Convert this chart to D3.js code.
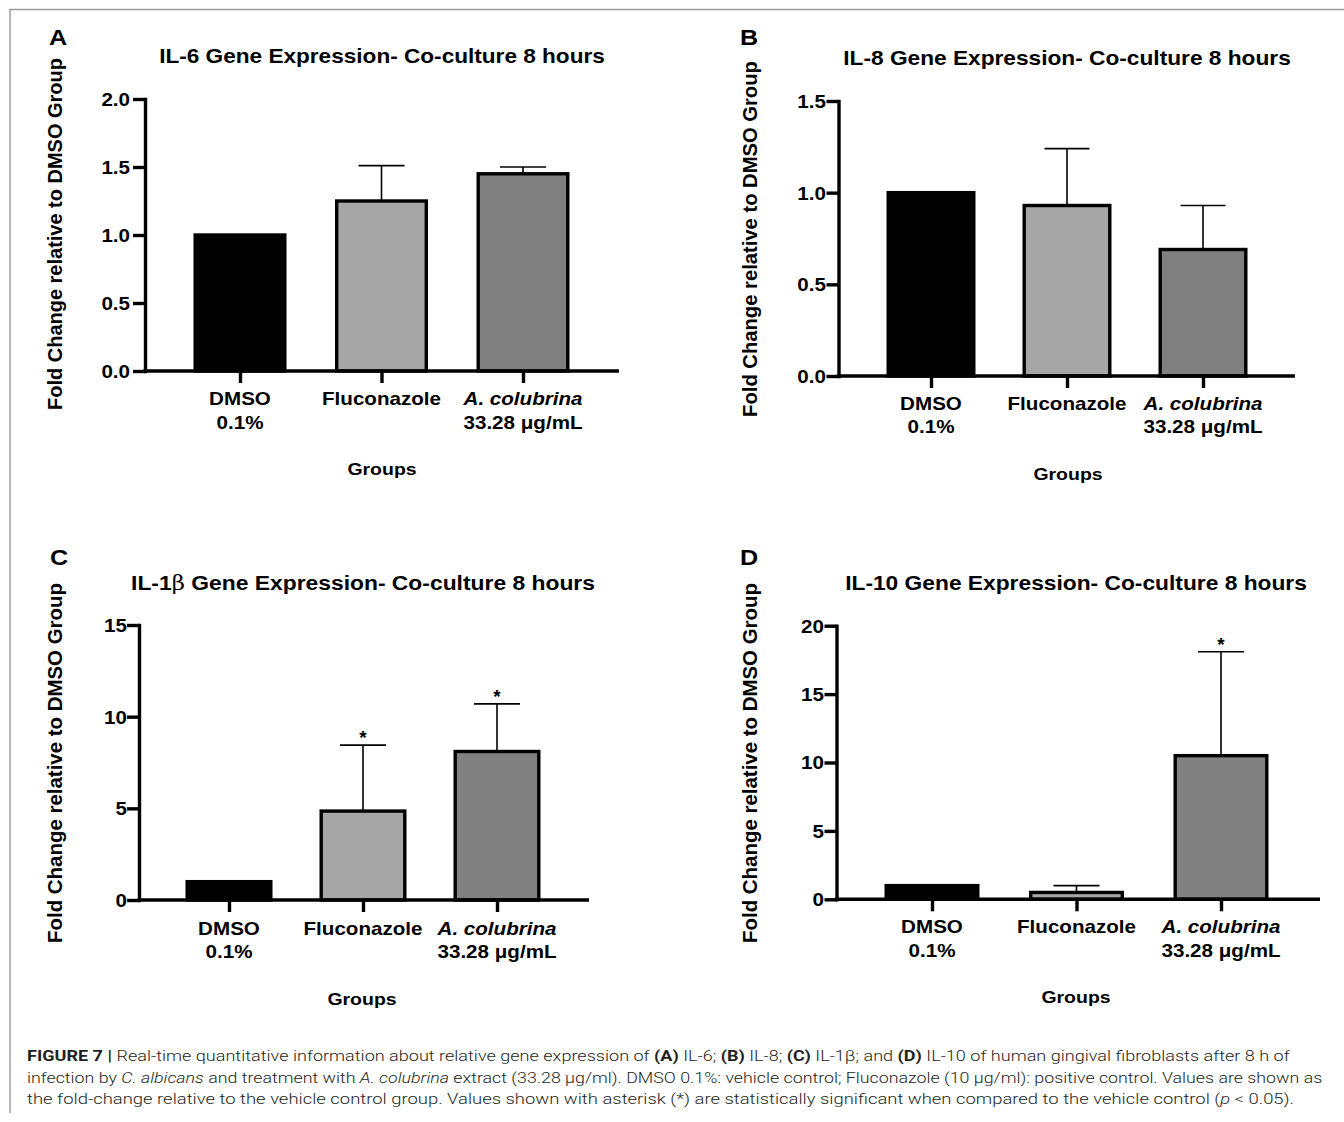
<!DOCTYPE html>
<html><head><meta charset="utf-8">
<script src="https://cdn.jsdelivr.net/npm/d3@7"></script>
<style>body{margin:0;background:#fff}svg{display:block}text{white-space:pre}</style>
</head><body>
<svg id="fig" width="1344" height="1122"></svg>
<script>
// ---------------- DATA ----------------
const groups = ["DMSO 0.1%", "Fluconazole", "A. colubrina 33.28 μg/mL"];
const groupLine1 = ["DMSO", "Fluconazole", "A. colubrina"];
const groupLine2 = ["0.1%", "", "33.28 μg/mL"];
const barColors = ["#000000", "#a6a6a6", "#808080"];

const il6Mean = [1.0, 1.25, 1.45];
const il6Err  = [0, 0.26, 0.05];
const il6Sig  = [false, false, false];
const il6Ticks = [0, 0.5, 1.0, 1.5, 2.0];

const il8Mean = [1.0, 0.93, 0.69];
const il8Err  = [0, 0.31, 0.24];
const il8Sig  = [false, false, false];
const il8Ticks = [0, 0.5, 1.0, 1.5];

const il1bMean = [1.0, 4.85, 8.1];
const il1bErr  = [0, 3.6, 2.6];
const il1bSig  = [false, true, true];
const il1bTicks = [0, 5, 10, 15];

const il10Mean = [1.0, 0.5, 10.5];
const il10Err  = [0, 0.5, 7.6];
const il10Sig  = [false, false, true];
const il10Ticks = [0, 5, 10, 15, 20];

const titleA = [["IL-6 Gene Expression- Co-culture 8 hours", false]];
const titleB = [["IL-8 Gene Expression- Co-culture 8 hours", false]];
const titleC = [["IL-1", false], ["β", true], [" Gene Expression- Co-culture 8 hours", false]];
const titleD = [["IL-10 Gene Expression- Co-culture 8 hours", false]];
const yLabel = "Fold Change relative to DMSO Group";
const xLabel = "Groups";

const captionLines = [
  [["FIGURE 7 |", "b"], [" Real-time quantitative information about relative gene expression of ", ""], ["(A)", "b"], [" IL-6; ", ""], ["(B)", "b"], [" IL-8; ", ""], ["(C)", "b"], [" IL-1β; and ", ""], ["(D)", "b"], [" IL-10 of human gingival fibroblasts after 8 h of", ""]],
  [["infection by ", ""], ["C. albicans", "i"], [" and treatment with ", ""], ["A. colubrina", "i"], [" extract (33.28 μg/ml). DMSO 0.1%: vehicle control; Fluconazole (10 μg/ml): positive control. Values are shown as", ""]],
  [["the fold-change relative to the vehicle control group. Values shown with asterisk (*) are statistically significant when compared to the vehicle control (", ""], ["p", "i"], [" < 0.05).", ""]]
];

// ---------------- LAYOUT ----------------
const FONT = "'Liberation Sans', Arial, Helvetica, sans-serif";
const SX = 1.145;   // horizontal stretch of the reference typography
const SW = 3.4;     // heavy stroke

const panels = [
  {letter: "A", title: titleA, mean: il6Mean, err: il6Err, sig: il6Sig, ticks: il6Ticks, fmt: d3.format(".1f"), max: 2,
   g: {ax: 145, y0: 371, y1: 99, xEnd: 619, c0: 240, c2: 523, bw: 93, capW: 46, tickRight: 130,
       tx: 382, ty: 63, tw: 446, lx: 49, ly: 45, ylx: 62, ylcy: 234, yll: 352, xl1: 405, xl2: 429, gx: 382, gy: 475}},
  {letter: "B", title: titleB, mean: il8Mean, err: il8Err, sig: il8Sig, ticks: il8Ticks, fmt: d3.format(".1f"), max: 1.5,
   g: {ax: 838.5, y0: 376, y1: 101, xEnd: 1295, c0: 931, c2: 1203, bw: 89, capW: 45, tickRight: 826,
       tx: 1067, ty: 65, tw: 448, lx: 740, ly: 45, ylx: 757, ylcy: 239, yll: 356, xl1: 410, xl2: 433, gx: 1068, gy: 480}},
  {letter: "C", title: titleC, mean: il1bMean, err: il1bErr, sig: il1bSig, ticks: il1bTicks, fmt: d3.format("d"), max: 15,
   g: {ax: 139, y0: 900, y1: 625, xEnd: 589, c0: 229, c2: 497, bw: 87, capW: 46, tickRight: 127,
       tx: 363, ty: 590, tw: 464, lx: 50, ly: 565, ylx: 62, ylcy: 763, yll: 360, xl1: 935, xl2: 958, gx: 362, gy: 1005}},
  {letter: "D", title: titleD, mean: il10Mean, err: il10Err, sig: il10Sig, ticks: il10Ticks, fmt: d3.format("d"), max: 20,
   g: {ax: 836.5, y0: 899.3, y1: 625.7, xEnd: 1320, c0: 932, c2: 1221, bw: 95, capW: 46, tickRight: 824,
       tx: 1076, ty: 590, tw: 462, lx: 740, ly: 565, ylx: 757, ylcy: 763, yll: 360, xl1: 933, xl2: 957, gx: 1076, gy: 1003}}
];

const svg = d3.select("#fig");

// frame
svg.append("path").attr("d", "M10,1113V9.5H1344").attr("fill", "none")
  .attr("stroke", "#9a9a9a").attr("stroke-width", 1.5);

function fitH(sel, target) {
  const w = sel.node().getBBox().width;
  return w > 0 ? target / w : 1;
}

function drawPanel(p) {
  const g = p.g;
  const G = svg.append("g").attr("font-family", FONT);
  const x = d3.scalePoint().domain(groups).range([g.c0, g.c2]);
  const y = d3.scaleLinear().domain([0, p.max]).range([g.y0, g.y1]);

  // error bars (upper only)
  const eb = G.append("g").attr("stroke", "#000").attr("stroke-width", 1.6);
  groups.forEach((k, i) => {
    if (p.err[i] > 0) {
      const cx = x(k), yt = y(p.mean[i] + p.err[i]);
      eb.append("line").attr("x1", cx).attr("x2", cx).attr("y1", y(p.mean[i])).attr("y2", yt);
      eb.append("line").attr("x1", cx - g.capW / 2).attr("x2", cx + g.capW / 2).attr("y1", yt).attr("y2", yt);
    }
  });

  // bars
  G.append("g").selectAll("rect").data(groups).join("rect")
    .attr("x", d => x(d) - (g.bw - SW) / 2)
    .attr("y", (d, i) => y(p.mean[i]))
    .attr("width", g.bw - SW)
    .attr("height", (d, i) => y(0) - y(p.mean[i]))
    .attr("fill", (d, i) => barColors[i])
    .attr("stroke", "#000").attr("stroke-width", SW);

  // asterisks
  groups.forEach((k, i) => {
    if (p.sig[i]) {
      G.append("text").attr("x", x(k)).attr("y", y(p.mean[i] + p.err[i]) - 1)
        .attr("text-anchor", "middle").attr("font-size", 19).attr("font-weight", "bold").text("*");
    }
  });

  // y axis
  const ya = G.append("g").attr("transform", `translate(${g.ax},0)`)
    .call(d3.axisLeft(y).tickValues(p.ticks).tickSize(12).tickSizeOuter(0).tickFormat(p.fmt));
  ya.attr("font-family", FONT).attr("font-size", 18).attr("font-weight", "bold");
  ya.select(".domain").attr("stroke", "#000").attr("stroke-width", SW).attr("stroke-linecap", "square");
  ya.selectAll(".tick line").attr("stroke", "#000").attr("stroke-width", SW);
  ya.selectAll(".tick text").attr("fill", "#000")
    .attr("x", (g.tickRight - g.ax) / SX).attr("dy", "0.36em")
    .attr("transform", `scale(${SX},1)`);

  // x axis
  G.append("line").attr("x1", g.ax - SW / 2).attr("x2", g.xEnd).attr("y1", y(0)).attr("y2", y(0))
    .attr("stroke", "#000").attr("stroke-width", SW);
  const xa = G.append("g").attr("transform", `translate(0,${y(0)})`)
    .call(d3.axisBottom(x).tickSize(12).tickSizeOuter(0).tickFormat(""));
  xa.select(".domain").remove();
  xa.selectAll(".tick line").attr("stroke", "#000").attr("stroke-width", SW);

  // x category labels
  groups.forEach((k, i) => {
    const t = G.append("text").attr("transform", `translate(${x(k)},${g.xl1}) scale(${SX},1)`)
      .attr("text-anchor", "middle").attr("font-size", 18).attr("font-weight", "bold");
    t.append("tspan").attr("x", 0).attr("y", 0).attr("font-style", i === 2 ? "italic" : "normal").text(groupLine1[i]);
    if (groupLine2[i]) t.append("tspan").attr("x", 0).attr("y", g.xl2 - g.xl1).text(groupLine2[i]);
  });

  // Groups label
  G.append("text").attr("transform", `translate(${g.gx},${g.gy}) scale(${SX},1)`)
    .attr("text-anchor", "middle").attr("font-size", 17).attr("font-weight", "bold").text(xLabel);

  // title
  const tt = G.append("text").attr("text-anchor", "middle").attr("font-size", 20).attr("font-weight", "bold");
  p.title.forEach(([s, greek]) => {
    const ts = tt.append("tspan").text(s);
    if (greek) ts.attr("font-family", "'DejaVu Serif', 'Liberation Serif', serif").attr("font-weight", "normal");
  });
  const kt = fitH(tt, g.tw);
  tt.attr("transform", `translate(${g.tx},${g.ty}) scale(${kt},1)`);

  // y label
  const yl = G.append("text").attr("text-anchor", "middle").attr("font-size", 20).attr("font-weight", "bold").text(yLabel);
  const ky = fitH(yl, g.yll);
  yl.attr("transform", `translate(${g.ylx},${g.ylcy}) rotate(-90) scale(${ky},1)`);

  // panel letter
  G.append("text").attr("transform", `translate(${g.lx},${g.ly}) scale(${SX},1)`)
    .attr("font-size", 22).attr("font-weight", "bold").text(p.letter);
}

panels.forEach(drawPanel);

// caption
const capTargets = [1292 - 27, 1323 - 27, 1295 - 27];
const capBase = [1061, 1083, 1104];
captionLines.forEach((parts, li) => {
  const t = svg.append("text").attr("font-family", "Roboto, 'Liberation Sans', Arial, sans-serif")
    .attr("font-size", 15).attr("font-weight", 300).attr("fill", "#231f20");
  parts.forEach(([s, st]) => {
    const ts = t.append("tspan").text(s);
    if (st === "b") ts.attr("font-weight", 700);
    if (st === "i") ts.attr("font-style", "italic");
  });
  const k = fitH(t, capTargets[li]);
  t.attr("transform", `translate(27,${capBase[li]}) scale(${k},1)`);
});
</script>
</body></html>
